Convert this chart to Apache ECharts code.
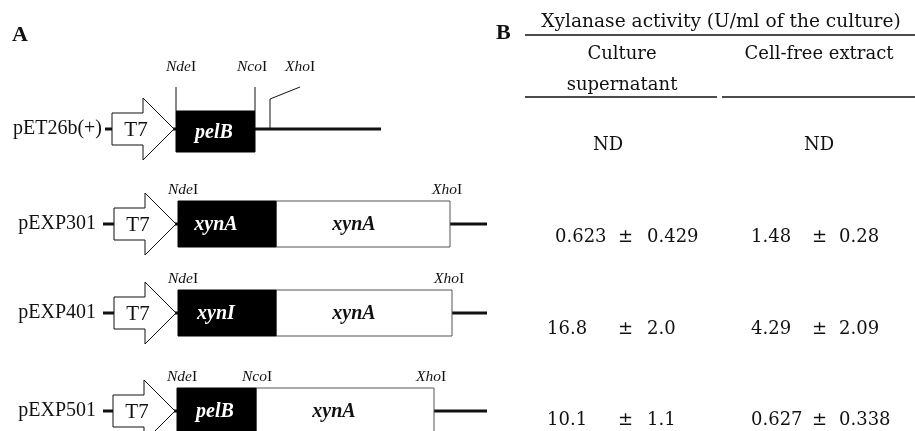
<!DOCTYPE html>
<html>
<head>
<meta charset="utf-8">
<script src="https://cdn.jsdelivr.net/npm/echarts@6/dist/echarts.min.js"></script>
<style>html,body{margin:0;padding:0;background:#fff}#c{width:915px;height:431px}</style>
</head>
<body>
<div id="c"></div>
<script>
// ---- Panel A: construct maps (positions in map units along the x axis) ----
const constructNames = ['pET26b(+)', 'pEXP301', 'pEXP401', 'pEXP501'];
const rowPos = [129, 224, 313, 411];
const vectorStart = [105, 103, 103, 103];
const t7Start = [112, 114, 114, 113];
const signalStart = [176, 178, 178, 177];
const signalEnd = [255, 276, 276, 256];
const signalGene = ['pelB', 'xynA', 'xynI', 'pelB'];
const matureEnd = [null, 450, 452, 434];
const matureGene = [null, 'xynA', 'xynA', 'xynA'];
const vectorEnd = [381, 487, 487, 487];
const ndeSite = [176, 178, 178, 177];
const ncoSite = [255, null, null, 256];
const xhoSite = [270, 450, 452, 434];

// ---- Panel B: xylanase activity (U/ml of the culture) ----
const supMean = ['ND', '0.623', '16.8', '10.1'];
const supSD = [null, '0.429', '2.0', '1.1'];
const cfeMean = ['ND', '1.48', '4.29', '0.627'];
const cfeSD = [null, '0.28', '2.09', '0.338'];

const serifA = 'Liberation Serif';
const serifB = 'DejaVu Serif';
const ink = '#111';

function siteText(italicPart) {
  return {
    text: '{i|' + italicPart + '}{r|I}',
    rich: {
      i: { fontFamily: serifA, fontStyle: 'italic', fontSize: 15.5, fill: ink },
      r: { fontFamily: serifA, fontSize: 15.5, fill: ink }
    },
    align: 'center', verticalAlign: 'middle'
  };
}

function renderConstruct(params, api) {
  const i = params.dataIndex;
  const y = rowPos[i];
  const P = (x, yy) => api.coord([x, yy]);
  const ch = [];
  const a = P(vectorStart[i], y), b = P(vectorEnd[i], y);
  ch.push({ type: 'line', shape: { x1: a[0], y1: a[1], x2: b[0], y2: b[1] }, style: { stroke: ink, lineWidth: 3 } });
  // label
  const lp = P(vectorStart[i] - (i === 0 ? 3 : 7), y);
  ch.push({ type: 'text', x: lp[0], y: lp[1], style: { text: constructNames[i], fontFamily: serifA, fontSize: 20, fill: ink, align: 'right', verticalAlign: 'middle' } });
  // T7 promoter arrow
  const x0 = t7Start[i];
  const pts = [[x0, y - 16], [x0 + 31, y - 16], [x0 + 31, y - 31], [x0 + 62, y], [x0 + 31, y + 31], [x0 + 31, y + 16], [x0, y + 16]].map(p => P(p[0], p[1]));
  ch.push({ type: 'polygon', shape: { points: pts }, style: { fill: '#fff', stroke: ink, lineWidth: 1 } });
  const tp = P(x0 + 24, y + 1);
  ch.push({ type: 'text', x: tp[0], y: tp[1], style: { text: 'T7', fontFamily: serifA, fontSize: 21, fill: ink, align: 'center', verticalAlign: 'middle' } });
  // boxes
  const top = i === 0 ? y - 18 : y - 23;
  const bot = y + 23;
  if (matureEnd[i] != null) {
    const m1 = P(signalEnd[i], top), m2 = P(matureEnd[i], bot);
    ch.push({ type: 'rect', shape: { x: m1[0], y: m1[1], width: m2[0] - m1[0], height: m2[1] - m1[1] }, style: { fill: '#fff', stroke: '#555', lineWidth: 1 } });
    const mt = P(signalEnd[i] + 78, y + 1);
    ch.push({ type: 'text', x: mt[0], y: mt[1], style: { text: matureGene[i], fontFamily: serifA, fontStyle: 'italic', fontWeight: 'bold', fontSize: 20, fill: ink, align: 'center', verticalAlign: 'middle' } });
  }
  const s1 = P(signalStart[i], top), s2 = P(signalEnd[i], bot);
  ch.push({ type: 'rect', shape: { x: s1[0], y: s1[1], width: s2[0] - s1[0], height: s2[1] - s1[1] }, style: { fill: '#000', stroke: '#000', lineWidth: 1 } });
  const st = P(signalStart[i] + 38, (top + bot) / 2 + 1);
  ch.push({ type: 'text', x: st[0], y: st[1], style: { text: signalGene[i], fontFamily: serifA, fontStyle: 'italic', fontWeight: 'bold', fontSize: 20, fill: '#fff', align: 'center', verticalAlign: 'middle' } });
  // restriction sites
  if (matureEnd[i] == null) {
    const flagTop = y - 42, labY = y - 62;
    [ndeSite[i], ncoSite[i]].forEach(sx => {
      const f1 = P(sx, top), f2 = P(sx, flagTop);
      ch.push({ type: 'line', shape: { x1: f1[0], y1: f1[1], x2: f2[0], y2: f2[1] }, style: { stroke: ink, lineWidth: 1 } });
    });
    const xh = [P(xhoSite[i], y), P(xhoSite[i], y - 30), P(xhoSite[i] + 30, y - 42)];
    ch.push({ type: 'polyline', shape: { points: xh }, style: { stroke: ink, lineWidth: 1, fill: null } });
    const l1 = P(ndeSite[i] + 5, labY), l2 = P(ncoSite[i] - 3, labY), l3 = P(xhoSite[i] + 30, labY);
    ch.push({ type: 'text', x: l1[0], y: l1[1], style: siteText('Nde') });
    ch.push({ type: 'text', x: l2[0], y: l2[1], style: siteText('Nco') });
    ch.push({ type: 'text', x: l3[0], y: l3[1], style: siteText('Xho') });
  } else {
    const labY = top - 11;
    const l1 = P(ndeSite[i] + 5, labY), l3 = P(xhoSite[i] - 3, labY);
    ch.push({ type: 'text', x: l1[0], y: l1[1], style: siteText('Nde') });
    ch.push({ type: 'text', x: l3[0], y: l3[1], style: siteText('Xho') });
    if (ncoSite[i] != null) {
      const l2 = P(ncoSite[i] + 1, labY);
      ch.push({ type: 'text', x: l2[0], y: l2[1], style: siteText('Nco') });
    }
  }
  return { type: 'group', children: ch };
}

// table layout
const tableRowY = [145, 237, 329, 420];
function renderTable(params, api) {
  const i = params.dataIndex;
  const y = tableRowY[i];
  const P = (x, yy) => api.coord([x, yy]);
  const ch = [];
  const base = { fontFamily: serifB, fontSize: 18, fill: ink, verticalAlign: 'middle' };
  const put = (x, txt, align) => {
    const p = P(x, y);
    ch.push({ type: 'text', x: p[0], y: p[1], style: Object.assign({}, base, { text: txt, align: align }) });
  };
  if (supSD[i] == null) {
    put(608, supMean[i], 'center');
  } else {
    put(i === 1 ? 555 : 547, supMean[i], 'left'); put(618, '±', 'left'); put(647, supSD[i], 'left');
  }
  if (cfeSD[i] == null) {
    put(819, cfeMean[i], 'center');
  } else {
    put(751, cfeMean[i], 'left'); put(812, '±', 'left'); put(839, cfeSD[i], 'left');
  }
  return { type: 'group', children: ch };
}

const chart = echarts.init(document.getElementById('c'), null, { renderer: 'canvas' });
const hdr = { fontFamily: serifB, fontSize: 18, fill: ink, textAlign: 'center', textVerticalAlign: 'middle' };
chart.setOption({
  animation: false,
  backgroundColor: '#fff',
  grid: { left: 0, right: 0, top: 0, bottom: 0 },
  xAxis: { type: 'value', min: 0, max: 915, show: false },
  yAxis: { type: 'value', min: 0, max: 431, inverse: true, show: false },
  graphic: [
    { type: 'text', left: 12, top: 24, style: { text: 'A', fontFamily: serifA, fontWeight: 'bold', fontSize: 22, fill: ink } },
    { type: 'text', left: 496, top: 22, style: { text: 'B', fontFamily: serifA, fontWeight: 'bold', fontSize: 22, fill: ink } },
    { type: 'text', x: 721, y: 22, style: Object.assign({}, hdr, { text: 'Xylanase activity (U/ml of the culture)', fontSize: 18.6 }) },
    { type: 'line', shape: { x1: 525, y1: 35, x2: 915, y2: 35 }, style: { stroke: ink, lineWidth: 1.5 } },
    { type: 'text', x: 622, y: 54, style: Object.assign({}, hdr, { text: 'Culture' }) },
    { type: 'text', x: 622, y: 85, style: Object.assign({}, hdr, { text: 'supernatant' }) },
    { type: 'text', x: 819, y: 54, style: Object.assign({}, hdr, { text: 'Cell-free extract' }) },
    { type: 'line', shape: { x1: 525, y1: 97, x2: 717, y2: 97 }, style: { stroke: ink, lineWidth: 1.5 } },
    { type: 'line', shape: { x1: 722, y1: 97, x2: 915, y2: 97 }, style: { stroke: ink, lineWidth: 1.5 } }
  ],
  series: [
    { type: 'custom', renderItem: renderConstruct, data: constructNames.map((n, k) => [k]), silent: true },
    { type: 'custom', renderItem: renderTable, data: supMean.map((n, k) => [k]), silent: true }
  ]
});
</script>
</body>
</html>
